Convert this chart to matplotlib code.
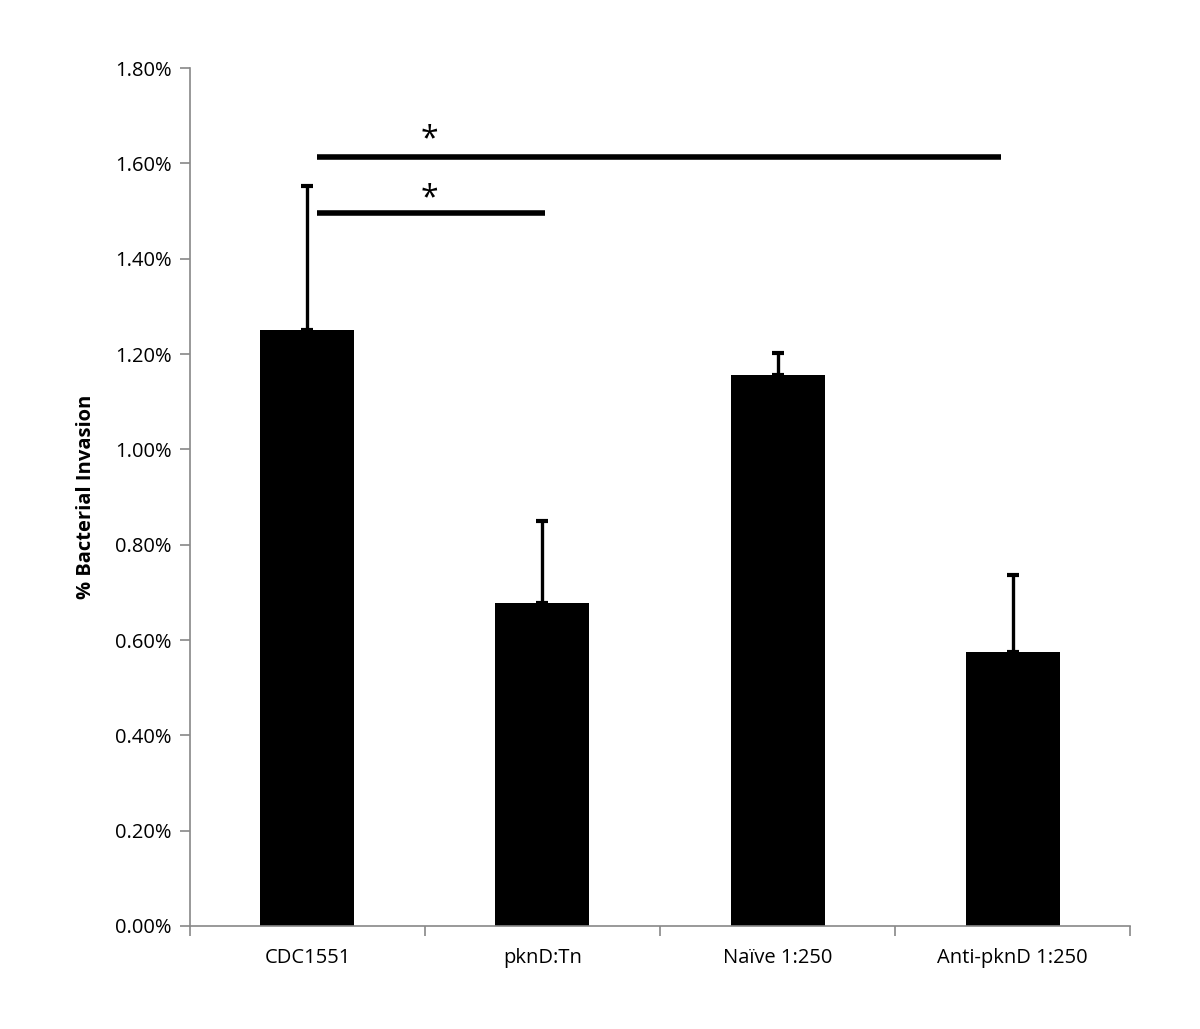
import matplotlib
matplotlib.use("Agg")
import matplotlib.pyplot as plt
from matplotlib.ticker import FuncFormatter, MultipleLocator

plt.rcParams['font.family'] = ['Open Sans', 'DejaVu Sans']

categories = ["CDC1551", "pknD:Tn", "Naïve 1:250", "Anti-pknD 1:250"]
values = [1.250, 0.678, 1.156, 0.575]
errors = [0.302, 0.172, 0.046, 0.161]
sig_lines = [(0.04, 2.95, 1.613), (0.04, 1.01, 1.496)]
sig_stars = [(0.52, 1.650), (0.52, 1.525)]

fig = plt.figure(figsize=(12, 10.29), dpi=100)
ax = fig.add_axes([0.1583, 0.1001, 0.7834, 0.8338])

x = list(range(len(categories)))
ax.bar(x, values, width=0.40, color='black', zorder=2)
ax.errorbar(x, values, yerr=[[0]*len(errors), errors], fmt='none', ecolor='black',
            elinewidth=2.4, capsize=4.5, capthick=3, zorder=3)

for x0, x1, y in sig_lines:
    ax.plot([x0, x1], [y, y], color='black', lw=4, solid_capstyle='butt', zorder=3)
for sx, sy in sig_stars:
    ax.text(sx, sy, '*', ha='center', va='center', fontsize=23, color='black')

ax.set_xlim(-0.5, 3.5)
ax.set_ylim(0, 1.8)
ax.yaxis.set_major_locator(MultipleLocator(0.2))
ax.yaxis.set_major_formatter(FuncFormatter(lambda v, p: f"{v:.2f}%"))
ax.set_xticks(x)
ax.set_xticklabels(categories)
ax.set_xticks([-0.5, 0.5, 1.5, 2.5, 3.5], minor=True)
ax.tick_params(axis='x', which='major', length=0, pad=16, labelsize=14.5)
ax.tick_params(axis='x', which='minor', length=7, width=1.2, color='#888888', direction='out')
ax.tick_params(axis='y', length=7, width=1.2, color='#888888', labelsize=14.5, pad=6)

for s in ['top', 'right']:
    ax.spines[s].set_visible(False)
for s in ['left', 'bottom']:
    ax.spines[s].set_color('#888888')
    ax.spines[s].set_linewidth(1.2)

ax.set_ylabel('% Bacterial Invasion', fontsize=14.5, fontweight='bold', labelpad=14)

fig.savefig('out.png', dpi=100)
